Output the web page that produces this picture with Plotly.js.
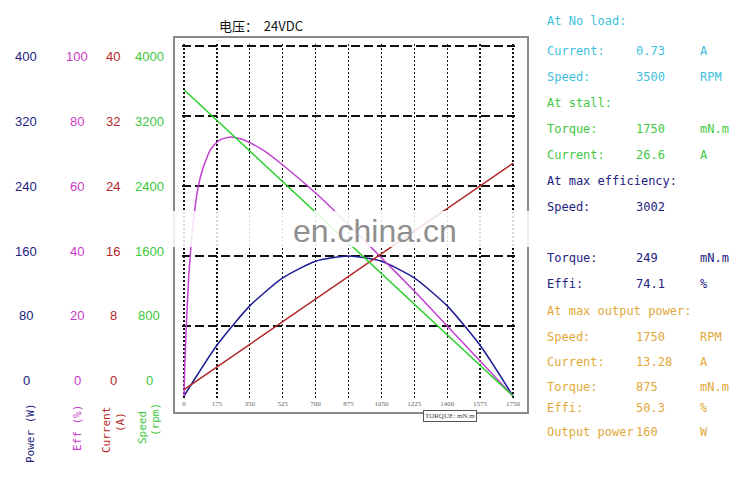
<!DOCTYPE html>
<html>
<head>
<meta charset="utf-8">
<script src="https://cdn.plot.ly/plotly-3.0.1.min.js"></script>
<style>html,body{margin:0;padding:0;background:#fff;}#chart{width:750px;height:483px;}</style>
</head>
<body>
<div id="chart"></div>
<script>
// ---- data ----
const torque = [0, 175, 350, 525, 700, 875, 1050, 1225, 1400, 1575, 1750];
const speedRpm = [3500, 3150, 2800, 2450, 2100, 1750, 1400, 1050, 700, 350, 0];
const currentA = [0.73, 3.32, 5.90, 8.49, 11.08, 13.67, 16.25, 18.84, 21.43, 24.01, 26.6];
const powerW = [0, 58, 103, 135, 154, 160, 154, 135, 103, 58, 0];
const effTorque = [0, 5, 10, 25, 50, 75, 100, 140, 175, 200, 250, 300, 350, 425, 525, 700, 875, 1050, 1225, 1400, 1575, 1750];
const effPct = [0, 9.5, 17, 34, 50, 59.6, 65, 70.3, 72.5, 73.4, 74, 73.5, 72.4, 70.1, 66, 58, 49, 39.5, 30, 20, 10, 0];

const xTicks = [0, 175, 350, 525, 700, 875, 1050, 1225, 1400, 1575, 1750];
const powerTicks = [0, 80, 160, 240, 320, 400];
const effTicks = [0, 20, 40, 60, 80, 100];
const currentTicks = [0, 8, 16, 24, 32, 40];
const speedTicks = [0, 800, 1600, 2400, 3200, 4000];

const chartTitle = "电压：&nbsp;&nbsp;24VDC";
const rowLabels = ["At No load:", "Current:", "Speed:", "At stall:", "Torque:", "Current:", "At max efficiency:", "Speed:", "Torque:", "Effi:", "At max output power:", "Speed:", "Current:", "Torque:", "Effi:", "Output power"];
const rowValues = ["", "0.73", "3500", "", "1750", "26.6", "", "3002", "249", "74.1", "", "1750", "13.28", "875", "50.3", "160"];
const rowUnits = ["", "A", "RPM", "", "mN.m", "A", "", "", "mN.m", "%", "", "RPM", "A", "mN.m", "%", "W"];
const rowGroup = [0, 0, 0, 1, 1, 1, 2, 2, 2, 2, 3, 3, 3, 3, 3, 3];

// ---- styles / layout ----
const C = {power: "#22227e", eff: "#c83cc8", current: "#b42828", speed: "#3cc83c"};
const lineC = {power: "#1c1c96", eff: "#c040d0", current: "#b02424", speed: "#2ad02a"};
const groupColors = ["#3cbfe0", "#44c844", "#22227e", "#e2a838"];
const rowY = [21, 50.7, 76.7, 103.3, 129, 155, 181, 206.7, 258.3, 284, 310.7, 336.7, 362, 386.7, 408.3, 432.3];

// inner grid box: x 184..513, y 46..396 ; plot area padded by E px so edge gridlines are drawn
const GL = 184, GT = 46, GW = 329, GH = 350, E = 2;
const L = GL - E, T = GT - E, PW = GW + 2 * E, PH = GH + 2 * E;
const px = v => (v - L) / PW;
const py = v => (T + PH - v) / PH;
function padRange(min, max, lenPx) {
  const u = (max - min) / lenPx;
  return [min - E * u, max + E * u];
}

const traces = [
  {x: torque, y: powerW, yaxis: "y", mode: "lines", line: {color: lineC.power, width: 1.5, shape: "spline", smoothing: 0.6}, hoverinfo: "skip"},
  {x: torque, y: currentA, yaxis: "y3", mode: "lines", line: {color: lineC.current, width: 1.5}, hoverinfo: "skip"},
  {x: torque, y: speedRpm, yaxis: "y4", mode: "lines", line: {color: lineC.speed, width: 1.5}, hoverinfo: "skip"},
  {x: effTorque, y: effPct, yaxis: "y2", mode: "lines", line: {color: lineC.eff, width: 1.5, shape: "spline", smoothing: 0.5}, hoverinfo: "skip"}
];

// label axes: tick labels sit at 0 -> 380.7px, top -> 56.7px
const lab0 = 380.7, labTop = 56.7;
function labRange(max) {
  const k = (lab0 - labTop) / max;
  return [-(T + PH - lab0) / k, max + (labTop - T) / k];
}
const hidden = {visible: false, overlaying: "y", fixedrange: true};

const layout = {
  width: 750, height: 483,
  margin: {l: L, r: 750 - L - PW, t: T, b: 483 - T - PH, pad: 0},
  paper_bgcolor: "#fff", plot_bgcolor: "#fff",
  showlegend: false,
  title: {text: chartTitle, x: px(261), xref: "paper", xanchor: "center", y: 1 - 26 / 483, yanchor: "middle",
          font: {family: "Noto Sans CJK SC, sans-serif", size: 13, color: "#111"}},
  xaxis: {range: padRange(0, 1750, GW), tickvals: xTicks, ticktext: xTicks.map(String), showgrid: true, gridcolor: "#111",
          gridwidth: 1.3, griddash: "2px,2px", zeroline: false, showline: false, ticks: "",
          tickfont: {family: "Liberation Serif, serif", size: 7, color: "#666"}, fixedrange: true},
  yaxis: {range: padRange(0, 400, GH), tickvals: powerTicks.slice(1), showticklabels: false, showgrid: true, gridcolor: "#111",
          gridwidth: 1.5, griddash: "9px,4px", zeroline: false, showline: false, ticks: "", fixedrange: true},
  yaxis2: Object.assign({range: padRange(0, 100, GH)}, hidden),
  yaxis3: Object.assign({range: padRange(0, 40, GH)}, hidden),
  yaxis4: Object.assign({range: padRange(0, 4000, GH)}, hidden),
  yaxis5: Object.assign({range: labRange(400)}, hidden),
  yaxis6: Object.assign({range: labRange(100)}, hidden),
  yaxis7: Object.assign({range: labRange(40)}, hidden),
  yaxis8: Object.assign({range: labRange(4000)}, hidden),
  shapes: [
    {type: "rect", xref: "paper", yref: "paper", x0: px(174), x1: px(528), y0: py(413), y1: py(37),
     line: {color: "#8a8a8a", width: 2}, fillcolor: "rgba(0,0,0,0)", layer: "below"},
    {type: "rect", xref: "paper", yref: "paper", x0: px(0), x1: px(540), y0: py(247), y1: py(211),
     line: {width: 0}, fillcolor: "rgba(255,255,255,0.85)", layer: "above"}
  ],
  annotations: []
};

const ann = layout.annotations;
// left tick label columns
const cols = [
  {ticks: powerTicks, axis: "y5", x: 26, color: C.power},
  {ticks: effTicks, axis: "y6", x: 77, color: C.eff},
  {ticks: currentTicks, axis: "y7", x: 113, color: C.current},
  {ticks: speedTicks, axis: "y8", x: 149, color: C.speed}
];
cols.forEach(c => c.ticks.forEach(v => ann.push({
  xref: "paper", yref: c.axis, x: px(c.x), y: v, text: String(v), showarrow: false,
  xanchor: "center", yanchor: "middle", font: {family: "Liberation Sans, Arial, sans-serif", size: 13, color: c.color}
})));
// rotated axis titles
const axTitles = [
  {t: "Power (W)", x: 30, y: 433, color: C.power},
  {t: "Eff (%)", x: 77, y: 428, color: C.eff},
  {t: "Current", x: 106, y: 430, color: C.current},
  {t: "(A)", x: 120, y: 422, color: C.current},
  {t: "Speed", x: 142, y: 428, color: C.speed},
  {t: "(rpm)", x: 155, y: 420, color: C.speed}
];
axTitles.forEach(a => ann.push({
  xref: "paper", yref: "paper", x: px(a.x), y: py(a.y), text: a.t, textangle: -90, showarrow: false,
  xanchor: "center", yanchor: "middle", font: {family: "DejaVu Sans Mono, monospace", size: 11, color: a.color}
}));
// right info panel
const mono = "DejaVu Sans Mono, Liberation Mono, monospace";
rowLabels.forEach((lab, i) => {
  const col = groupColors[rowGroup[i]];
  const f = {family: mono, size: 12, color: col};
  ann.push({xref: "paper", yref: "paper", x: px(545), y: py(rowY[i]), text: lab, showarrow: false, xanchor: "left", yanchor: "middle", font: f});
  if (rowValues[i]) ann.push({xref: "paper", yref: "paper", x: px(634), y: py(rowY[i]), text: rowValues[i], showarrow: false, xanchor: "left", yanchor: "middle", font: f});
  if (rowUnits[i]) ann.push({xref: "paper", yref: "paper", x: px(698), y: py(rowY[i]), text: rowUnits[i], showarrow: false, xanchor: "left", yanchor: "middle", font: f});
});
// torque axis label box
ann.push({xref: "paper", yref: "paper", x: px(450), y: py(415.5), text: "TORQUE: mN.m", showarrow: false,
  xanchor: "center", yanchor: "middle", bgcolor: "#fff", bordercolor: "#555", borderwidth: 1, borderpad: 1,
  font: {family: "Liberation Serif, serif", size: 7, color: "#444"}});
// watermark
ann.push({xref: "paper", yref: "paper", x: px(375), y: py(231), text: "en.china.cn", showarrow: false,
  xanchor: "center", yanchor: "middle", font: {family: "Liberation Sans, Arial, sans-serif", size: 32, color: "#8f8f8f"}});

Plotly.newPlot("chart", traces, layout, {displayModeBar: false, staticPlot: true});
</script>
</body>
</html>
